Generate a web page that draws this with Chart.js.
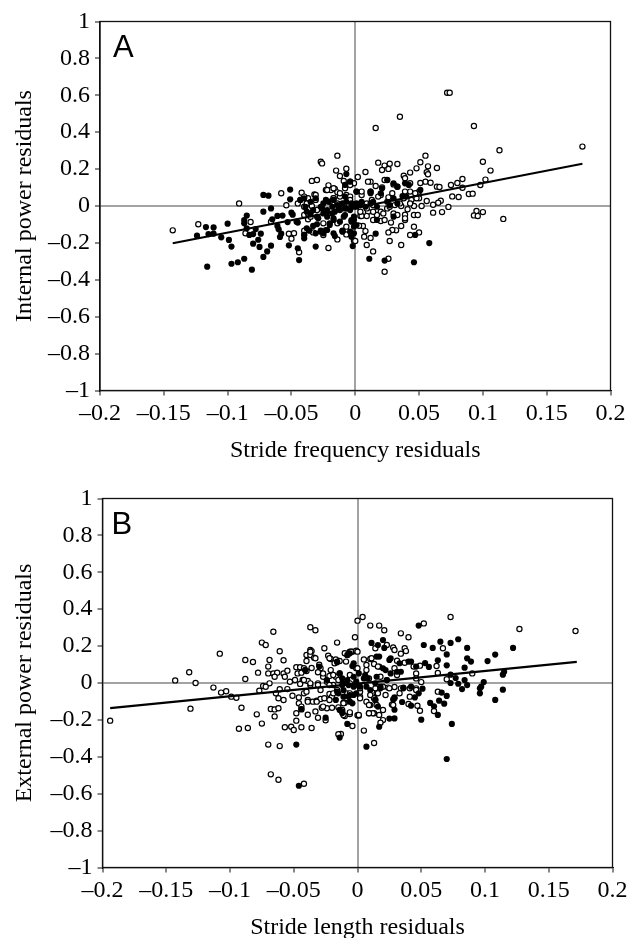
<!DOCTYPE html>
<html>
<head>
<meta charset="utf-8">
<script src="https://cdn.jsdelivr.net/npm/chart.js@4"></script>
<style>
html, body { margin: 0; padding: 0; background: #fff; overflow: hidden; height: 938px; }
.panel { position: absolute; left: 0; width: 639px; }
</style>
</head>
<body>
<div class="panel" style="top:0"><canvas id="chartA"></canvas></div>
<div class="panel" style="top:469px"><canvas id="chartB"></canvas></div>
<script>
// Panel A: stride frequency vs internal power residuals
const filledA = [[-.124,-.161],[-.117,-.114],[-.111,-.116],[-.115,-.152],[-.111,-.150],[-.105,-.170],[-.099,-.184],[-.097,-.220],[-.100,-.096],[-.116,-.329],[-.097,-.313],[-.092,-.305],[-.087,-.286],[-.081,-.345],[-.080,-.204],[-.075,-.222],[-.072,-.276],[-.069,-.246],[-.066,-.215],[-.076,-.183],[-.074,-.150],[-.083,-.157],[-.080,-.152],[-.078,-.125],[-.085,-.052],[-.087,-.076],[-.087,-.094],[-.085,-.121],[-.072,-.031],[-.066,-.013],[-.072,.060],[-.068,.056],[-.051,.089],[-.051,.036],[-.050,-.036],[-.049,-.047],[-.065,-.072],[-.061,-.054],[-.057,-.052],[-.061,-.108],[-.060,-.126],[-.058,-.150],[-.059,-.168],[-.052,-.213],[-.045,-.229],[-.044,-.293],[-.031,-.220],[-.002,-.217],[-.053,-.087],[-.045,-.090],[-.040,-.157],[-.040,-.175],[-.036,-.134],[-.033,-.108],[-.030,-.099],[-.029,-.067],[-.025,-.148],[-.027,-.134],[-.022,-.130],[-.017,-.148],[-.016,-.163],[-.010,-.136],[-.004,-.139],[-.003,-.166],[-.001,-.148],[-.001,-.076],[.001,-.103],[-.018,-.040],[-.017,-.076],[-.025,-.040],[-.027,-.004],[-.023,.033],[-.016,-.031],[-.009,-.058],[-.007,-.013],[-.003,.005],[.001,-.004],[-.008,.051],[-.007,.173],[-.008,.114],[-.043,.033],[-.040,.042],[-.031,.042],[-.038,-.031],[-.035,-.040],[-.020,-.094],[-.013,-.013],[.001,.078],[.012,.078],[.021,.096],[.025,.141],[.033,.105],[.042,.114],[.037,.054],[.030,.042],[.016,-.150],[.047,-.157],[.058,-.201],[.046,-.305],[.023,-.296],[.011,-.286],[-.003,-.157],[-.001,-.112],[-.003,-.076],[-.010,-.139],[.030,-.058],[.017,-.076],[-.001,-.004],[.004,.005],[.014,.023],[.027,.005],[-.008,-.049],[.008,-.004],[.020,.069],[.039,.123],[.051,.087],[-.004,.132],[-.025,.014],[-.021,.023],[-.017,.033],[-.026,-.013],[-.022,-.022],[-.018,-.004],[-.014,.005],[-.010,.014],[-.007,.023],[-.003,.014],[.001,.014],[.005,.023],[-.012,-.022],[-.008,-.013],[-.004,-.022],[-.001,-.058],[-.003,-.085],[-.027,-.139],[-.023,-.130],[-.031,-.148],[-.038,-.121],[-.040,-.157],[-.046,-.085],[-.043,.033],[-.035,.023],[-.039,-.004],[-.033,-.022],[-.030,-.058],[-.022,-.058],[-.017,-.067],[-.012,-.085],[-.020,-.103],[-.010,-.134],[.012,.069],[.033,.014],[.040,.051],[.030,.123],[.012,.014],[.017,-.004],[.025,.023]];
const openA = [[-.143,-.132],[-.123,-.099],[-.091,.014],[-.082,-.087],[-.086,-.148],[-.066,-.085],[-.058,.069],[-.054,.004],[-.052,-.150],[-.050,-.177],[-.048,-.148],[-.044,-.251],[-.021,-.228],[-.014,-.181],[-.007,-.154],[-.001,-.188],[-.014,.273],[-.027,.240],[-.026,.231],[-.007,.202],[-.015,.192],[-.012,.163],[.002,.157],[-.034,.136],[-.030,.141],[-.009,.136],[-.004,.132],[-.001,.123],[-.021,.112],[-.023,.087],[-.019,.087],[-.016,.092],[-.014,.074],[-.008,.096],[.001,.078],[-.042,.072],[-.032,.063],[-.007,.060],[-.004,.051],[-.037,.042],[-.045,.014],[-.040,-.004],[-.034,0],[-.030,-.022],[-.020,.023],[-.014,.014],[-.009,.005],[-.040,-.049],[-.037,-.072],[-.033,-.143],[-.025,-.094],[-.014,-.094],[-.007,-.112],[-.040,-.134],[-.025,-.157],[.004,-.054],[-.004,.033],[-.038,.014],[-.031,.033],[-.017,.042],[-.012,.051],[.072,.614],[.074,.614],[.035,.484],[.016,.423],[.093,.434],[.178,.322],[.113,.302],[.055,.273],[.051,.237],[.048,.204],[.043,.181],[.057,.215],[.064,.206],[.056,.183],[.057,.172],[.055,.132],[.059,.126],[.051,.125],[.038,.164],[.039,.150],[.018,.235],[.023,.219],[.027,.229],[.033,.228],[.021,.195],[.026,.201],[.008,.184],[.012,.132],[.025,.141],[.030,.117],[.016,.108],[.021,.101],[.064,.105],[.066,.103],[.075,.114],[.080,.125],[.084,.146],[.084,.099],[.102,.143],[.100,.240],[.106,.192],[.098,.114],[.076,.052],[.081,.049],[.089,.065],[.092,.067],[.067,.029],[.065,.018],[.061,.007],[.073,-.005],[.068,-.033],[.061,-.036],[.095,-.027],[.100,-.033],[.093,-.051],[.096,-.054],[.116,-.070],[.046,-.049],[.049,-.049],[.039,-.047],[.041,-.018],[.036,0],[.046,0],[.052,0],[.056,.027],[.050,.078],[.043,.078],[.038,.042],[.031,.005],[.025,-.013],[.020,-.031],[.010,-.031],[.005,-.054],[.009,-.054],[.014,-.076],[.020,-.081],[.028,-.090],[.036,-.108],[.039,-.076],[.046,-.112],[.050,-.143],[.032,-.132],[.029,-.130],[.026,-.143],[.043,-.157],[.027,-.190],[.036,-.211],[.012,-.173],[.007,-.166],[.008,-.136],[.006,-.108],[.009,-.211],[.014,-.246],[.026,-.286],[.023,-.356],[0,-.190],[.003,-.107],[.022,-.040],[.030,-.040],[.014,.005],[.009,.014],[.005,.060],[.012,.078],[.020,.060],[.026,.047],[.044,.033],[.050,.042],[.005,.078],[.010,.132],[.013,.033],[.018,.051],[.023,.141],[.029,.069],[.033,.105],[.039,.078],[.043,.123],[.047,.069],[.017,-.049],[.023,-.076],[.033,-.049],[.039,-.067],[.004,-.031],[.009,-.013],[.014,-.031],[.027,-.004],[.035,.014],[.043,.014],[.048,.042],[-.040,.051],[-.031,.060],[-.022,.087],[-.017,.096],[-.037,-.040],[-.017,.042],[-.035,-.058],[-.012,.069],[-.004,.114]];
const trendA = [[-.143,-.202],[.178,.229]];

// Panel B: stride length vs external power residuals
const filledB = [[-.048,-.334],[-.046,-.557],[-.025,-.188],[-.008,-.222],[-.014,-.296],[-.012,-.163],[-.004,-.110],[-.016,.112],[-.004,.092],[-.014,.052],[-.003,.034],[-.015,-.056],[-.011,-.074],[-.007,-.074],[-.001,-.056],[-.012,-.011],[-.008,.016],[-.001,.007],[-.003,-.020],[-.017,-.092],[-.003,-.065],[-.041,.070],[-.044,-.141],[.048,.311],[.011,.217],[.020,.233],[.016,.206],[.021,.190],[.052,.206],[.065,.224],[.073,.217],[.079,.237],[.059,.190],[.086,.190],[.122,.190],[.108,.154],[.070,.155],[.086,.134],[.089,.116],[.102,.119],[.063,.123],[.053,.108],[.070,.096],[.056,.087],[.084,.083],[.115,.061],[.114,.045],[.073,.045],[.077,.027],[.079,-.004],[.073,0],[.084,.016],[.086,-.011],[.082,-.033],[.099,.005],[.097,-.020],[.096,-.029],[.096,-.056],[.114,-.036],[.108,-.092],[.066,-.052],[.070,-.070],[.064,-.096],[.068,-.112],[.057,-.108],[.060,-.126],[.063,-.173],[.050,-.199],[.074,-.222],[.070,-.412],[.051,-.031],[.048,-.056],[.045,-.078],[.035,-.103],[.029,-.078],[.028,-.089],[.042,-.123],[.029,-.145],[.025,-.193],[.029,-.192],[.017,-.237],[.007,-.345],[.040,.116],[.034,.061],[.026,.134],[.017,.143],[.006,.043],[.015,.034],[.022,.070],[.026,.052],[.018,-.020],[.014,-.092],[-.014,-.146],[-.012,.025],[-.007,-.011],[.002,-.020],[.036,-.025],[.010,-.038],[.023,.016],[-.006,.161],[-.011,-.038],[-.014,.052],[-.008,.152],[-.003,.107],[.001,.052],[.005,.025],[.015,.143],[.020,.080],[.025,.125],[.031,.061],[.033,.107],[.042,.116],[.046,.089],[-.011,-.002],[-.016,-.047],[-.006,-.065],[-.002,-.011],[.007,-.020],[.014,-.002],[.018,-.029],[-.006,-.101],[-.012,-.155],[.014,-.092],[.016,-.128],[.008,.025],[.023,.016],[.036,-.029],[.029,-.083],[.042,-.020],[-.041,.070],[-.030,.089],[-.016,.116],[-.024,.016]];
const openB = [[-.194,-.204],[-.131,-.139],[-.143,.014],[-.132,.058],[-.127,0],[-.113,-.025],[-.107,-.052],[-.103,-.045],[-.099,-.074],[-.095,-.080],[-.108,.159],[-.088,.125],[-.082,.114],[-.088,.022],[-.078,.056],[-.077,-.042],[-.091,-.134],[-.079,-.170],[-.075,-.220],[-.093,-.248],[-.086,-.244],[-.070,-.334],[-.061,-.342],[-.068,-.495],[-.062,-.524],[-.042,-.546],[-.066,.278],[-.075,.219],[-.072,.206],[-.061,.172],[-.069,.125],[-.058,.123],[-.070,.089],[-.070,.052],[-.066,.052],[-.063,.056],[-.058,.052],[-.055,.067],[-.065,.034],[-.057,.034],[-.069,-.002],[-.074,-.016],[-.072,-.020],[-.061,-.034],[-.055,-.033],[-.053,.007],[-.049,.016],[-.043,.016],[-.039,.011],[-.064,-.056],[-.062,-.083],[-.058,-.092],[-.051,-.069],[-.046,-.078],[-.042,-.056],[-.040,-.047],[-.068,-.141],[-.065,-.143],[-.062,-.137],[-.065,-.181],[-.048,-.164],[-.046,-.110],[-.044,-.128],[-.044,-.143],[-.048,-.204],[-.057,-.240],[-.052,-.237],[-.050,-.255],[-.044,-.240],[-.039,-.172],[-.033,-.154],[-.036,-.244],[-.031,-.188],[-.025,-.202],[-.028,-.134],[-.024,-.137],[-.020,-.134],[-.039,-.092],[-.035,-.101],[-.032,-.096],[-.029,-.087],[-.026,-.083],[-.022,-.060],[-.020,-.074],[-.037,.302],[-.033,.286],[-.026,.188],[-.016,.219],[-.002,.248],[0,.338],[-.037,.179],[-.036,.173],[-.040,.152],[-.037,.152],[-.034,.137],[-.040,.119],[-.048,.085],[-.045,.085],[-.042,.080],[-.040,.065],[-.036,.081],[-.030,.099],[-.029,.080],[-.031,.058],[-.027,.034],[-.023,.148],[-.021,.130],[-.017,.128],[-.014,.119],[-.021,.070],[-.022,.038],[-.017,.034],[-.008,.152],[-.004,.170],[-.001,.175],[-.009,.116],[-.001,.080],[-.047,.052],[-.044,.056],[-.045,-.005],[-.037,-.011],[-.031,-.002],[-.029,-.038],[-.024,.007],[-.019,-.011],[-.015,.016],[-.006,-.002],[-.015,-.132],[-.012,-.146],[-.006,-.168],[-.010,-.107],[-.010,-.179],[-.004,-.233],[0,-.175],[-.013,-.276],[-.015,-.278],[.002,-.074],[-.008,-.056],[-.016,-.038],[.004,.358],[.073,.358],[.010,.311],[.017,.311],[.021,.286],[.052,.323],[.034,.269],[.040,.248],[.127,.293],[.171,.282],[.067,.188],[.037,.188],[.038,.173],[.034,.159],[.028,.193],[.029,.179],[.023,.206],[.014,.188],[0,.170],[-.006,.170],[.005,.128],[.010,.130],[.013,.103],[.017,.089],[.031,.121],[.037,.110],[.044,.089],[.049,.094],[.062,.092],[.063,.054],[.090,.052],[.070,.020],[.050,.005],[.046,.052],[.046,.025],[.029,.080],[.031,.043],[.024,-.025],[.029,-.022],[.041,-.029],[.046,-.029],[.034,-.029],[.063,-.047],[.022,-.065],[.041,-.074],[.047,-.123],[.049,-.150],[.040,-.114],[.027,-.117],[.020,-.146],[.017,-.173],[.020,-.201],[.018,-.215],[.009,-.164],[.013,-.164],[.010,-.119],[.013,-.083],[.015,-.056],[.007,-.101],[.002,-.083],[-.011,-.107],[-.006,-.159],[.001,-.177],[-.011,-.173],[.005,-.258],[.013,-.325],[.060,-.152],[0,.080],[.007,.070],[.009,.025],[.002,-.047],[-.006,-.056],[.015,-.119],[-.037,.170],[-.033,.134],[-.022,.134],[-.018,.107],[-.010,.161],[-.005,.170],[.007,.098],[.011,.134],[.016,.089],[-.027,.052],[-.019,.043],[-.042,.016],[-.037,-.002],[-.031,-.011],[-.022,-.011],[-.006,.043],[.018,.034],[.014,-.029],[.016,-.056],[.010,-.065],[.020,-.020],[.025,-.029],[-.039,-.101],[-.032,-.101],[-.027,-.128],[-.019,-.056],[-.022,-.092],[-.011,-.110],[.002,-.029],[.009,-.119],[.012,-.164],[.028,-.119],[.001,-.173],[.009,-.164],[.033,-.056],[.046,-.038]];
const trendB = [[-.194,-.136],[.172,.114]];

const SERIF = '"Liberation Serif", "Times New Roman", serif';
const GREY = "#a3a3a3";

function toPoints(list) {
    return list.map(function (p) { return { x: p[0], y: p[1] }; });
}

function tickText(value) {
    const v = Math.round(value * 100) / 100;
    return v < 0 ? "\u2013" + Math.abs(v) : String(v);
}

function zeroLine(ctx) {
    return Math.abs(ctx.tick.value) < 1e-9 ? GREY : "rgba(0,0,0,0)";
}

function makePanel(id, opt) {
    // frame and panel letter
    const framePlugin = {
        id: "frame",
        afterDatasetsDraw(chart) {
            const c = chart.ctx;
            const a = chart.chartArea;
            c.save();
            c.strokeStyle = "#111";
            c.lineWidth = 1.3;
            c.strokeRect(a.left, a.top, a.right - a.left, a.bottom - a.top);
            c.fillStyle = "#000";
            c.font = '31px "Liberation Sans"';
            c.textBaseline = "alphabetic";
            c.fillText(opt.letter, a.left + opt.letterX, a.top + 35);
            c.restore();
        }
    };

    const canvas = document.getElementById(id);
    canvas.width = 639;
    canvas.height = opt.height;

    new Chart(canvas, {
        type: "scatter",
        data: {
            datasets: [
                {
                    label: "Trend",
                    data: toPoints(opt.trend),
                    showLine: true,
                    borderColor: "#000",
                    borderWidth: 2.2,
                    pointRadius: 0
                },
                {
                    label: "Filled",
                    data: toPoints(opt.filled),
                    backgroundColor: "#000",
                    borderColor: "#000",
                    borderWidth: 0,
                    pointRadius: 3.1
                },
                {
                    label: "Open",
                    data: toPoints(opt.open),
                    backgroundColor: "#fff",
                    borderColor: "#000",
                    borderWidth: 1.2,
                    pointRadius: 2.6
                }
            ]
        },
        options: {
            responsive: false,
            animation: false,
            layout: { padding: { left: 0, right: opt.padRight, top: opt.padTop, bottom: 0 } },
            plugins: { legend: { display: false }, tooltip: { enabled: false } },
            scales: {
                x: {
                    type: "linear",
                    min: -0.2,
                    max: 0.2,
                    afterFit(s) { s.height = opt.xHeight; },
                    border: { color: "#111", width: 1.3 },
                    grid: { color: zeroLine, lineWidth: 2, tickColor: "#111", tickWidth: 1, tickLength: 5 },
                    ticks: {
                        stepSize: 0.05,
                        color: "#000",
                        font: { family: SERIF, size: 24 },
                        padding: 4,
                        maxRotation: 0,
                        autoSkip: false,
                        callback: tickText
                    },
                    title: {
                        display: true,
                        text: opt.xTitle,
                        color: "#000",
                        font: { family: SERIF, size: 24, lineHeight: 1 },
                        padding: { top: 0, bottom: opt.xTitlePad }
                    }
                },
                y: {
                    min: -1,
                    max: 1,
                    afterFit(s) { s.width = opt.yWidth; },
                    border: { color: "#111", width: 1.3 },
                    grid: { color: zeroLine, lineWidth: 2, tickColor: "#111", tickWidth: 1, tickLength: 5 },
                    ticks: {
                        stepSize: 0.2,
                        color: "#000",
                        font: { family: SERIF, size: 24 },
                        padding: 5,
                        autoSkip: false,
                        callback: tickText
                    },
                    title: {
                        display: true,
                        text: opt.yTitle,
                        color: "#000",
                        font: { family: SERIF, size: 24, lineHeight: 1 },
                        padding: { top: 13, bottom: 0 }
                    }
                }
            }
        },
        plugins: [framePlugin]
    });
}

makePanel("chartA", {
    letter: "A",
    letterX: 13,
    filled: filledA,
    open: openA,
    trend: trendA,
    xTitle: "Stride frequency residuals",
    yTitle: "Internal power residuals",
    height: 469,
    padRight: 28.5,
    padTop: 21.5,
    xHeight: 78.5,
    yWidth: 100,
    xTitlePad: 6
});

makePanel("chartB", {
    letter: "B",
    letterX: 9,
    filled: filledB,
    open: openB,
    trend: trendB,
    xTitle: "Stride length residuals",
    yTitle: "External power residuals",
    height: 480,
    padRight: 26.5,
    padTop: 29.5,
    xHeight: 81.5,
    yWidth: 102.5,
    xTitlePad: 9
});
</script>
</body>
</html>
